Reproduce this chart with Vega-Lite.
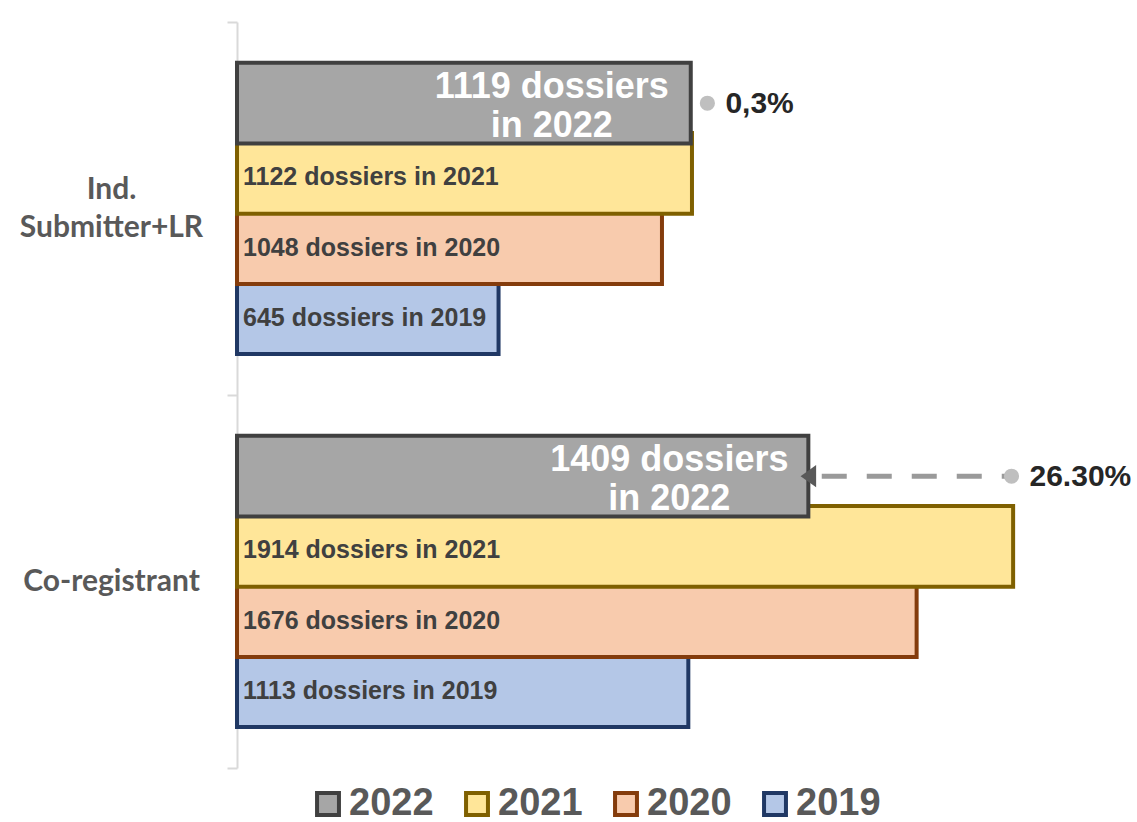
{
  "$schema": "https://vega.github.io/schema/vega-lite/v6.json",
  "width": 811,
  "height": 746,
  "autosize": {"type": "none"},
  "padding": {"left": 237, "top": 22, "right": 89, "bottom": 54},
  "background": "white",
  "config": {
    "view": {"stroke": null},
    "font": "Liberation Sans",
    "legend": {
      "symbolType": "square",
      "symbolSize": 480,
      "symbolStrokeWidth": 4,
      "labelFontSize": 38,
      "labelFont": "Liberation Sans",
      "labelFontWeight": "bold",
      "labelColor": "#595959",
      "labelOffset": 2,
      "columnPadding": 24,
      "padding": 0,
      "symbolOpacity": 1
    }
  },
  "data": {
    "values": [
      {"cat": "Ind. Submitter+LR", "year": "2019", "value": 645, "label": "645 dossiers in 2019"},
      {"cat": "Ind. Submitter+LR", "year": "2020", "value": 1048, "label": "1048 dossiers in 2020"},
      {"cat": "Ind. Submitter+LR", "year": "2021", "value": 1122, "label": "1122 dossiers in 2021"},
      {"cat": "Ind. Submitter+LR", "year": "2022", "value": 1119, "label": "1119 dossiers\nin 2022"},
      {"cat": "Co-registrant", "year": "2019", "value": 1113, "label": "1113 dossiers in 2019"},
      {"cat": "Co-registrant", "year": "2020", "value": 1676, "label": "1676 dossiers in 2020"},
      {"cat": "Co-registrant", "year": "2021", "value": 1914, "label": "1914 dossiers in 2021"},
      {"cat": "Co-registrant", "year": "2022", "value": 1409, "label": "1409 dossiers\nin 2022"}
    ]
  },
  "resolve": {"scale": {"yOffset": "independent"}},
  "encoding": {
    "y": {
      "field": "cat",
      "type": "nominal",
      "scale": {"domain": ["Ind. Submitter+LR", "Co-registrant"], "paddingInner": 0, "paddingOuter": 0},
      "axis": {
        "title": null,
        "domainColor": "#d9d9d9",
        "domainWidth": 2,
        "tickColor": "#d9d9d9",
        "tickWidth": 2,
        "tickSize": 10,
        "tickBand": "extent",
        "labelFont": "Lato",
        "labelFontWeight": "bold",
        "labelFontSize": 30,
        "labelColor": "#595959",
        "labelAlign": "center",
        "labelBaseline": "middle",
        "labelPadding": 116,
        "labelLimit": 400,
        "labelLineHeight": 38,
        "labelOffset": {"condition": {"test": "datum.value == 'Ind. Submitter+LR'", "value": -19}, "value": 0},
        "labelExpr": "datum.value == 'Ind. Submitter+LR' ? ['Ind.', 'Submitter+LR'] : datum.value"
      }
    },
    "yOffset": {
      "field": "year",
      "type": "nominal",
      "scale": {"type": "band", "domain": ["2022", "2021", "2020", "2019"], "paddingOuter": 0.657, "paddingInner": 0}
    }
  },
  "layer": [
    {
      "mark": {"type": "bar", "height": {"band": 1.15}, "strokeWidth": 4, "strokeJoin": "miter"},
      "encoding": {
        "yOffset": {
          "field": "year",
          "type": "nominal",
          "scale": {"type": "band", "domain": ["2022", "2021", "2020", "2019"], "paddingOuter": 0.657, "paddingInner": 0, "align": 0.7456}
        },
        "x": {"field": "value", "type": "quantitative", "stack": null, "scale": {"domain": [0, 2000], "nice": false}, "axis": null},
        "fill": {
          "field": "year", "type": "nominal",
          "scale": {"domain": ["2022", "2021", "2020", "2019"], "range": ["#a6a6a6", "#ffe699", "#f8cbad", "#b4c7e7"]},
          "legend": {"title": null, "orient": "none", "direction": "horizontal", "legendX": 72, "legendY": 763}
        },
        "stroke": {
          "field": "year", "type": "nominal",
          "scale": {"domain": ["2022", "2021", "2020", "2019"], "range": ["#404040", "#7f6000", "#843c0c", "#203864"]},
          "legend": {"title": null, "orient": "none", "direction": "horizontal", "legendX": 72, "legendY": 763}
        }
      }
    },
    {
      "transform": [{"filter": "datum.year == '2022'"}],
      "mark": {"type": "text", "align": "center", "baseline": "middle", "dx": -139, "dy": -16, "lineBreak": "\n", "lineHeight": 39, "fontSize": 36, "fontWeight": "bold", "color": "#ffffff", "font": "Liberation Sans"},
      "encoding": {
        "x": {"field": "value", "type": "quantitative"},
        "text": {"field": "label"}
      }
    },
    {
      "transform": [{"filter": "datum.year != '2022'"}],
      "mark": {"type": "text", "align": "left", "baseline": "middle", "dx": 6, "dy": 4, "fontSize": 25, "fontWeight": "bold", "color": "#404040", "font": "Liberation Sans"},
      "encoding": {
        "x": {"datum": 0, "type": "quantitative"},
        "text": {"field": "label"}
      }
    },
    {
      "data": {"values": [
        {"cat": "Ind. Submitter+LR", "year": "2022", "dot": 1160, "label": "0,3%"},
        {"cat": "Co-registrant", "year": "2022", "from": 1409, "dot": 1910, "label": "26.30%"}
      ]},
      "layer": [
        {
          "transform": [{"filter": "datum.from != null"}],
          "mark": {"type": "rule", "strokeWidth": 5, "strokeDash": [25, 20], "strokeDashOffset": 31.6, "color": "#9a9a9a"},
          "encoding": {
            "x": {"field": "from", "type": "quantitative"},
            "x2": {"field": "dot"}
          }
        },
        {
          "transform": [{"filter": "datum.from != null"}],
          "mark": {"type": "point", "shape": "M-0.47,0L0.47,-0.67L0.47,0.67Z", "size": 1100, "filled": true, "color": "#595959", "opacity": 1, "dx": 8},
          "encoding": {
            "x": {"field": "from", "type": "quantitative"}
          }
        },
        {
          "mark": {"type": "point", "shape": "circle", "size": 230, "filled": true, "color": "#bfbfbf", "opacity": 1},
          "encoding": {
            "x": {"field": "dot", "type": "quantitative"}
          }
        },
        {
          "mark": {"type": "text", "align": "left", "baseline": "middle", "dx": 18, "dy": 1, "fontSize": 30, "fontWeight": "bold", "color": "#262626", "font": "Liberation Sans"},
          "encoding": {
            "x": {"field": "dot", "type": "quantitative"},
            "text": {"field": "label"}
          }
        }
      ]
    }
  ]
}
